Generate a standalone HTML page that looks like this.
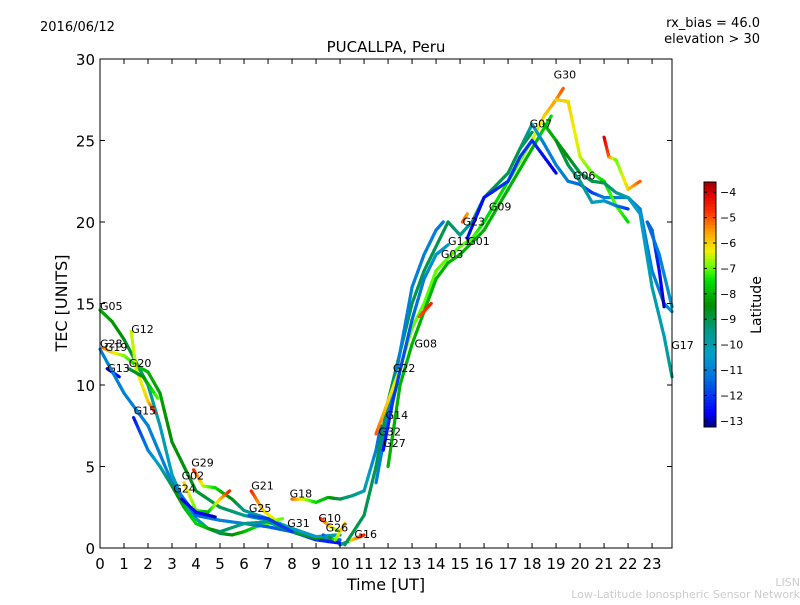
<!DOCTYPE html>
<html><head><meta charset="utf-8"><style>
body{margin:0;background:#fff}
svg{font-family:"DejaVu Sans","Liberation Sans",sans-serif}
</style></head><body>
<svg id="chart" width="800" height="600" xmlns="http://www.w3.org/2000/svg">
<rect width="800" height="600" fill="#fff"/>
<text x="40" y="31" font-size="13">2016/06/12</text>
<text x="760" y="27" font-size="13" text-anchor="end">rx_bias = 46.0</text>
<text x="760" y="43" font-size="13" text-anchor="end">elevation &gt; 30</text>
<text x="386" y="52" font-size="15" text-anchor="middle">PUCALLPA, Peru</text>
<g id="plot"></g>
<g id="axes"></g>
<text x="386" y="590" font-size="16" text-anchor="middle">Time [UT]</text>
<text transform="translate(67,303) rotate(-90)" font-size="16" text-anchor="middle">TEC [UNITS]</text>
<g id="cbar"></g>
<text transform="translate(761,305) rotate(-90)" font-size="14" text-anchor="middle">Latitude</text>
<text x="800" y="586" font-size="11" fill="#ccc" text-anchor="end">LISN</text>
<text x="800" y="598" font-size="11" fill="#ccc" text-anchor="end">Low-Latitude Ionospheric Sensor Network</text>
</svg>
<script>
const xTicks=[0,1,2,3,4,5,6,7,8,9,10,11,12,13,14,15,16,17,18,19,20,21,22,23];
const yTicks=[0,5,10,15,20,25,30];
const cTicks=[-4,-5,-6,-7,-8,-9,-10,-11,-12,-13];
const trackNames=["G05","G28","G13","cyan1","G12","G20","G15","G29","G02","G24","G21","G25","G18","G10","G26","G16","G08","G03","G14","G22","G27","G13b","G23","G09","G07","G30","G06","green2","red2","blue2","G17"];
const trackTime=[
[0,0.5,1,1.5,2,2.5,3,3.5,4,4.5,5,5.5,6,6.5,7,7.3],
[0.1,0.5,1,1.5,2,2.5,3,3.5,4,5,6,7,8,9,10],
[0.3,0.8],
[0,1,2,3,3.5,4,5,6,7,8,9,10],
[1.3,1.5,2,2.3],
[1.2,1.8,2.4],
[1.4,2,2.5,3,3.5,4,4.5,5,6,7,8,9,9.8],
[3.9,4.3,4.8,5.5,6,7,8,9,10],
[3.5,4,4.5,5,5.4],
[3.4,4,4.8],
[6.3,6.8,7.3,7.6],
[6.2,7,8],
[8,8.5,9,9.5,10,10.5,11,11.5,11.7],
[9.2,9.6,10],
[9.3,9.8,10.2],
[10,10.5,11],
[10.2,11,11.5,12,12.5,13,13.5,14,14.5,15,15.5,16,17,17.5,18],
[11.5,12,12.5,13,13.5,14,14.3],
[11.5,12,12.5,13,13.5,14,14.5,15,15.5,16,17,18,18.5,19,19.3],
[12,12.5,13,13.5,14,14.5,15,16,17,18,18.8],
[11.8,12.2,13,13.5,14,14.5],
[13.3,13.8],
[15.1,15.3],
[15.3,16,17,17.5,18,18.5,19],
[17.5,18,18.5,19,19.5,20,20.5,21,22,22.5,23,23.5,23.83],
[19,19.5,20,20.5,21,21.5,22],
[18.5,19,19.5,20,20.5,21,21.5,22,22.5,23,23.5,23.83],
[19,19.5,20,20.5,21,21.5,22],
[21,21.2,21.5,22,22.5],
[22.8,23,23.3,23.5],
[22.8,23.3,23.83]];
const trackTec=[
[14.6,13.9,12.8,11.4,10,7.5,4.5,2.8,1.8,1.2,0.9,0.8,1,1.3,1.5,1.7],
[12.3,12,11.8,11.2,10.8,9.5,6.5,5,3.5,2.5,2,1.7,1,0.5,0.5],
[11,10.5],
[12.2,9.5,7.5,4,3,2,1.7,1.5,1.3,1,0.5,0.3],
[13.3,11,9,8.3],
[11,10.5,9.2],
[8,6,5,3.8,2.5,1.5,1.2,1,1.5,1.6,1,0.6,0.8],
[4.8,3.8,3.7,3,2.3,1.8,1.2,0.7,0.8],
[4,2.3,2.2,3,3.5],
[3,2.2,1.9],
[3.5,2.3,1.7,1.8],
[2,1.8,1],
[3,3,2.8,3.1,3,3.2,3.5,6,7.5],
[1.8,1.3,1],
[0.8,0.5,1.5],
[0.2,0.5,0.8],
[0.2,2,5,9,12,15,17,18.5,20,19.2,20,21.5,23,24.5,25.5],
[4,8,12,16,18,19.5,20],
[7,9,11,13.5,15,17,17.8,18.5,19,20,22.5,25,26.5,27.5,28.2],
[5,10,12.5,14.5,16.5,17.5,18,19.5,22,24.5,26.5],
[6,9,14,16.5,18,18.6],
[14.2,15],
[20,20.5],
[19,21.5,22.5,24,25,24,23],
[24.5,26,24.8,23.5,22.5,22.3,21.8,21.5,21.5,20.8,17,15,14.5],
[27.5,27.4,24,23,22.5,21,20],
[26,25,24,23,22.5,22.4,21.8,21.5,20.5,16,13,10.5],
[25,23.5,22.5,21.2,21.3,21,20.8],
[25.2,24,23.8,22,22.5],
[20,19.5,17,14.8],
[20,18,14.8]];
const trackLat=[
[-8,-8.3,-8.5,-9,-9.5,-10,-10.2,-10.3,-10,-9.5,-9,-8.5,-8,-7.5,-7,-6.5],
[-5,-6,-6.8,-7.5,-8,-8.2,-8.5,-8.5,-8.7,-9,-9.5,-10,-10.5,-11,-11.5],
[-12.8,-12.5],
[-11,-11,-11,-11,-11.2,-11.5,-11,-11,-11.5,-11.5,-12,-12.5],
[-6.5,-6.5,-6,-4.5],
[-9,-8.5,-7],
[-12.5,-11,-10,-9,-8,-7.5,-8,-9,-9.5,-9.5,-9,-8.5,-8],
[-4.5,-6.5,-7.5,-8.5,-9.5,-10,-10.2,-10.5,-10],
[-6,-7,-8,-6,-4.5],
[-12.8,-12.5,-13],
[-4.5,-6,-6.5,-7],
[-11.5,-12,-12],
[-5,-6.5,-7.5,-8,-9,-9.5,-10,-11,-11.5],
[-4.5,-6,-7],
[-12,-7,-5.5],
[-12.5,-6,-4.5],
[-9,-9,-9,-9,-9,-9,-9,-9,-9,-9.5,-9.5,-9,-9,-9,-9],
[-11,-11,-11,-11,-11,-11,-11.2],
[-5,-6,-6.5,-7,-7,-7,-7,-7,-7,-7.5,-7.5,-6.5,-6,-5.5,-5],
[-8,-8,-8,-8,-8,-8,-8,-8,-8,-8,-7.5],
[-12.5,-12,-11.5,-11,-10.5,-10.5],
[-5,-4.5],
[-5,-5.5],
[-12.5,-12.5,-12,-12,-12,-12.5,-12.8],
[-9,-10,-11,-11,-11,-11.5,-12,-11,-11,-11,-11,-11,-10.5],
[-6,-6,-6.5,-7,-7.5,-7,-7.5],
[-8,-8,-8.5,-9,-9,-9,-9.5,-10,-10.5,-10,-10,-9.5],
[-8.5,-9,-9.5,-10,-10.5,-11,-12],
[-4,-5,-7,-6,-5],
[-11.5,-11.5,-12.5,-13],
[-11.5,-11,-10.5]];
const labelNames=["G05","G28","G19","G13","G12","G20","G15","G29","G02","G24","G21","G25","G31","G18","G10","G26","G16","G14","G32","G27","G22","G08","G03","G11","G01","G23","G09","G07","G30","G06","G17"];
const labelTime=[0,0,0.2,0.3,1.3,1.2,1.4,3.8,3.4,3.05,6.3,6.2,7.8,7.9,9.1,9.4,10.6,11.9,11.6,11.8,12.2,13.1,14.2,14.5,15.3,15.1,16.2,17.9,18.9,19.7,23.8];
const labelTec=[14.6,12.3,12.1,10.8,13.2,11.1,8.2,5,4.2,3.4,3.6,2.2,1.3,3.1,1.6,1.0,0.6,7.9,6.9,6.2,10.8,12.3,17.8,18.6,18.6,19.8,20.7,25.8,28.8,22.6,12.2];
const latMin=-13.24, latMax=-3.6;
const X0=100,X1=672,Y0=548,Y1=59,tMax=23.83;
const xs=t=>X0+(X1-X0)*t/tMax;
const ys=v=>Y0-(Y0-Y1)*v/30;
const NS="http://www.w3.org/2000/svg";
const cmapStops=[[0,[0,0,128]],[0.06,[0,0,255]],[0.2,[0,112,224]],[0.3,[0,160,200]],[0.4,[0,154,128]],[0.5,[0,144,0]],[0.6,[0,224,0]],[0.65,[96,255,0]],[0.72,[240,240,0]],[0.8,[255,160,0]],[0.88,[255,48,0]],[0.95,[224,0,0]],[1,[160,0,0]]];
function jet(v){const x=Math.max(0,Math.min(1,v));
 for(let i=0;i<cmapStops.length-1;i++){const a=cmapStops[i],b=cmapStops[i+1];
  if(x<=b[0]){const f=(x-a[0])/(b[0]-a[0]);const c=a[1].map((q,j)=>Math.round(q+(b[1][j]-q)*f));return `rgb(${c[0]},${c[1]},${c[2]})`;}}
 return 'rgb(160,0,0)';}
const latNorm=l=>(l-latMin)/(latMax-latMin);
const plot=document.getElementById('plot');
trackTime.forEach((ts,i)=>{
 const g=document.createElementNS(NS,'g');
 
 
 for(let k=0;k<ts.length-1;k++){
  const n=6;
  for(let s=0;s<n;s++){
   const a=s/n,b=(s+1)/n;
   const t0=ts[k]+(ts[k+1]-ts[k])*a,t1=ts[k]+(ts[k+1]-ts[k])*b;
   const v0=trackTec[i][k]+(trackTec[i][k+1]-trackTec[i][k])*a,v1=trackTec[i][k]+(trackTec[i][k+1]-trackTec[i][k])*b;
   const l=trackLat[i][k]+(trackLat[i][k+1]-trackLat[i][k])*(a+b)/2;
   const ln=document.createElementNS(NS,'line');
   ln.setAttribute('x1',xs(t0));ln.setAttribute('y1',ys(v0));
   ln.setAttribute('x2',xs(t1));ln.setAttribute('y2',ys(v1));
   ln.setAttribute('stroke',jet(latNorm(l)));ln.setAttribute('stroke-width','3.2');ln.setAttribute('stroke-linecap','round');
   
   
   g.appendChild(ln);
  }
 }
 plot.appendChild(g);
});
labelNames.forEach((nm,i)=>{
 const t=document.createElementNS(NS,'text');
 t.setAttribute('x',xs(labelTime[i]));t.setAttribute('y',ys(labelTec[i]));
 t.setAttribute('font-size','11');t.textContent=nm;
 
 
 plot.appendChild(t);
});
const axes=document.getElementById('axes');
function add(parent,tag,attrs,txt){const e=document.createElementNS(NS,tag);for(const k in attrs)e.setAttribute(k,attrs[k]);if(txt!==undefined)e.textContent=txt;parent.appendChild(e);return e;}
const frame=add(axes,'rect',{x:X0,y:Y1,width:X1-X0,height:Y0-Y1,fill:'none',stroke:'#000','stroke-width':1});


xTicks.forEach(t=>{
 const x=xs(t);
 add(axes,'line',{x1:x,y1:Y0,x2:x,y2:Y0-5,stroke:'#000'});
 add(axes,'line',{x1:x,y1:Y1,x2:x,y2:Y1+5,stroke:'#000'});
 const lb=add(axes,'text',{x:x,y:569,'font-size':15,'text-anchor':'middle'},String(t));
 
 
});
yTicks.forEach(v=>{
 const y=ys(v);
 add(axes,'line',{x1:X0,y1:y,x2:X0+5,y2:y,stroke:'#000'});
 add(axes,'line',{x1:X1,y1:y,x2:X1-5,y2:y,stroke:'#000'});
 const lb=add(axes,'text',{x:95,y:y+6,'font-size':15,'text-anchor':'end'},String(v));
 
 
});
const cb=document.getElementById('cbar');
const CX=704,CW=12,CT=182,CB=427;
const cy=l=>CB-(CB-CT)*latNorm(l);
const N=80;
for(let k=0;k<N;k++){
 const r=add(cb,'rect',{x:CX,y:CB-(CB-CT)*(k+1)/N,width:CW,height:(CB-CT)/N+0.5,fill:jet((k+0.5)/N)});
 
 
}
add(cb,'rect',{x:CX,y:CT,width:CW,height:CB-CT,fill:'none',stroke:'#000'});
cTicks.forEach(l=>{
 const y=cy(l);
 add(cb,'line',{x1:CX+CW-3,y1:y,x2:CX+CW,y2:y,stroke:'#000'});
 add(cb,'line',{x1:CX,y1:y,x2:CX+3,y2:y,stroke:'#000'});
 const lb=add(cb,'text',{x:CX+CW+4,y:y+4,'font-size':11},'\u2212'+Math.abs(l));
 
 
});
</script>
</body></html>
